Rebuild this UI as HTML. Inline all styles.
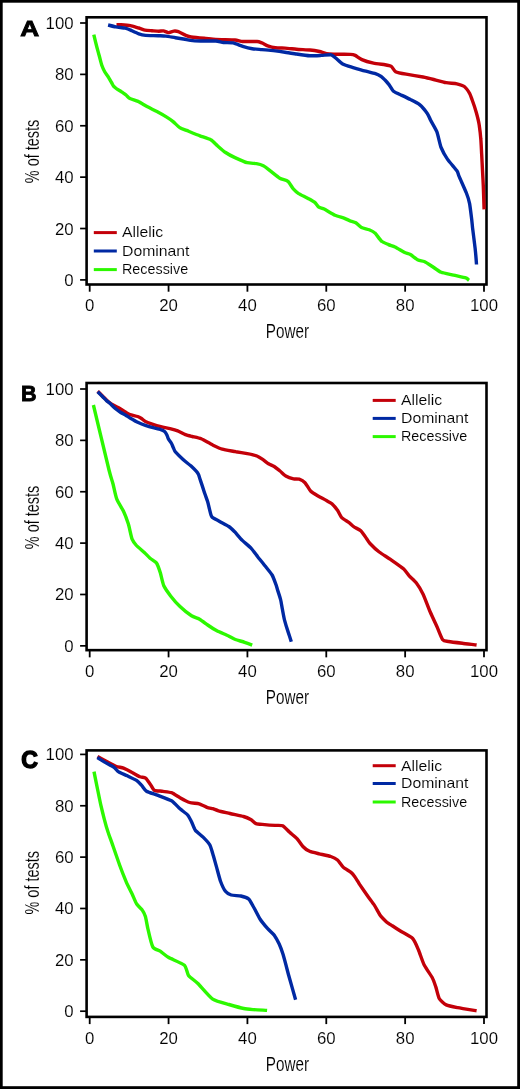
<!DOCTYPE html><html><head><meta charset="utf-8"><style>html,body{margin:0;padding:0;background:#fff;overflow:hidden;}svg{display:block;will-change:transform;}text{font-family:"Liberation Sans", sans-serif;}.t{stroke:#fff;stroke-width:0.12px;}</style></head><body>
<svg width="520" height="1089" viewBox="0 0 520 1089">
<rect x="0" y="0" width="520" height="1089" fill="#000"/>
<rect x="2.7" y="2.7" width="514.5" height="1083.5" fill="#fff"/>
<rect x="86.60" y="17.30" width="399.90" height="267.20" fill="none" stroke="#000" stroke-width="2.6"/>
<line x1="80.1" y1="279.90" x2="86.60" y2="279.90" stroke="#000" stroke-width="1.7"/>
<text class="t" x="73.6" y="285.90" font-size="16.8" text-anchor="end">0</text>
<line x1="80.1" y1="228.52" x2="86.60" y2="228.52" stroke="#000" stroke-width="1.7"/>
<text class="t" x="73.6" y="234.52" font-size="16.8" text-anchor="end">20</text>
<line x1="80.1" y1="177.14" x2="86.60" y2="177.14" stroke="#000" stroke-width="1.7"/>
<text class="t" x="73.6" y="183.14" font-size="16.8" text-anchor="end">40</text>
<line x1="80.1" y1="125.76" x2="86.60" y2="125.76" stroke="#000" stroke-width="1.7"/>
<text class="t" x="73.6" y="131.76" font-size="16.8" text-anchor="end">60</text>
<line x1="80.1" y1="74.38" x2="86.60" y2="74.38" stroke="#000" stroke-width="1.7"/>
<text class="t" x="73.6" y="80.38" font-size="16.8" text-anchor="end">80</text>
<line x1="80.1" y1="23.00" x2="86.60" y2="23.00" stroke="#000" stroke-width="1.7"/>
<text class="t" x="73.6" y="29.00" font-size="16.8" text-anchor="end">100</text>
<line x1="89.70" y1="284.50" x2="89.70" y2="291.70" stroke="#000" stroke-width="1.8"/>
<text class="t" x="89.70" y="311.20" font-size="16.8" text-anchor="middle">0</text>
<line x1="168.56" y1="284.50" x2="168.56" y2="291.70" stroke="#000" stroke-width="1.8"/>
<text class="t" x="168.56" y="311.20" font-size="16.8" text-anchor="middle">20</text>
<line x1="247.42" y1="284.50" x2="247.42" y2="291.70" stroke="#000" stroke-width="1.8"/>
<text class="t" x="247.42" y="311.20" font-size="16.8" text-anchor="middle">40</text>
<line x1="326.28" y1="284.50" x2="326.28" y2="291.70" stroke="#000" stroke-width="1.8"/>
<text class="t" x="326.28" y="311.20" font-size="16.8" text-anchor="middle">60</text>
<line x1="405.14" y1="284.50" x2="405.14" y2="291.70" stroke="#000" stroke-width="1.8"/>
<text class="t" x="405.14" y="311.20" font-size="16.8" text-anchor="middle">80</text>
<line x1="484.00" y1="284.50" x2="484.00" y2="291.70" stroke="#000" stroke-width="1.8"/>
<text class="t" x="484.00" y="311.20" font-size="16.8" text-anchor="middle">100</text>
<text class="t" transform="translate(38.7 151.45) rotate(-90)" font-size="21" text-anchor="middle" textLength="63.5" lengthAdjust="spacingAndGlyphs">% of tests</text>
<text class="t" x="287.4" y="338.30" font-size="21" text-anchor="middle" textLength="43.2" lengthAdjust="spacingAndGlyphs">Power</text>
<text transform="translate(20.20 36.20) scale(1.150 1)" font-size="22.8" font-weight="bold" stroke="#000" stroke-width="0.9">A</text>
<rect x="86.60" y="383.00" width="399.90" height="267.15" fill="none" stroke="#000" stroke-width="2.6"/>
<line x1="80.1" y1="645.85" x2="86.60" y2="645.85" stroke="#000" stroke-width="1.7"/>
<text class="t" x="73.6" y="651.85" font-size="16.8" text-anchor="end">0</text>
<line x1="80.1" y1="594.48" x2="86.60" y2="594.48" stroke="#000" stroke-width="1.7"/>
<text class="t" x="73.6" y="600.48" font-size="16.8" text-anchor="end">20</text>
<line x1="80.1" y1="543.11" x2="86.60" y2="543.11" stroke="#000" stroke-width="1.7"/>
<text class="t" x="73.6" y="549.11" font-size="16.8" text-anchor="end">40</text>
<line x1="80.1" y1="491.74" x2="86.60" y2="491.74" stroke="#000" stroke-width="1.7"/>
<text class="t" x="73.6" y="497.74" font-size="16.8" text-anchor="end">60</text>
<line x1="80.1" y1="440.37" x2="86.60" y2="440.37" stroke="#000" stroke-width="1.7"/>
<text class="t" x="73.6" y="446.37" font-size="16.8" text-anchor="end">80</text>
<line x1="80.1" y1="389.00" x2="86.60" y2="389.00" stroke="#000" stroke-width="1.7"/>
<text class="t" x="73.6" y="395.00" font-size="16.8" text-anchor="end">100</text>
<line x1="89.70" y1="650.15" x2="89.70" y2="657.35" stroke="#000" stroke-width="1.8"/>
<text class="t" x="89.70" y="676.85" font-size="16.8" text-anchor="middle">0</text>
<line x1="168.56" y1="650.15" x2="168.56" y2="657.35" stroke="#000" stroke-width="1.8"/>
<text class="t" x="168.56" y="676.85" font-size="16.8" text-anchor="middle">20</text>
<line x1="247.42" y1="650.15" x2="247.42" y2="657.35" stroke="#000" stroke-width="1.8"/>
<text class="t" x="247.42" y="676.85" font-size="16.8" text-anchor="middle">40</text>
<line x1="326.28" y1="650.15" x2="326.28" y2="657.35" stroke="#000" stroke-width="1.8"/>
<text class="t" x="326.28" y="676.85" font-size="16.8" text-anchor="middle">60</text>
<line x1="405.14" y1="650.15" x2="405.14" y2="657.35" stroke="#000" stroke-width="1.8"/>
<text class="t" x="405.14" y="676.85" font-size="16.8" text-anchor="middle">80</text>
<line x1="484.00" y1="650.15" x2="484.00" y2="657.35" stroke="#000" stroke-width="1.8"/>
<text class="t" x="484.00" y="676.85" font-size="16.8" text-anchor="middle">100</text>
<text class="t" transform="translate(38.7 517.42) rotate(-90)" font-size="21" text-anchor="middle" textLength="63.5" lengthAdjust="spacingAndGlyphs">% of tests</text>
<text class="t" x="287.4" y="703.95" font-size="21" text-anchor="middle" textLength="43.2" lengthAdjust="spacingAndGlyphs">Power</text>
<text transform="translate(21.00 401.30) scale(0.960 1)" font-size="22.4" font-weight="bold" stroke="#000" stroke-width="0.9">B</text>
<rect x="86.60" y="750.40" width="399.90" height="266.50" fill="none" stroke="#000" stroke-width="2.6"/>
<line x1="80.1" y1="1011.20" x2="86.60" y2="1011.20" stroke="#000" stroke-width="1.7"/>
<text class="t" x="73.6" y="1017.20" font-size="16.8" text-anchor="end">0</text>
<line x1="80.1" y1="959.84" x2="86.60" y2="959.84" stroke="#000" stroke-width="1.7"/>
<text class="t" x="73.6" y="965.84" font-size="16.8" text-anchor="end">20</text>
<line x1="80.1" y1="908.48" x2="86.60" y2="908.48" stroke="#000" stroke-width="1.7"/>
<text class="t" x="73.6" y="914.48" font-size="16.8" text-anchor="end">40</text>
<line x1="80.1" y1="857.12" x2="86.60" y2="857.12" stroke="#000" stroke-width="1.7"/>
<text class="t" x="73.6" y="863.12" font-size="16.8" text-anchor="end">60</text>
<line x1="80.1" y1="805.76" x2="86.60" y2="805.76" stroke="#000" stroke-width="1.7"/>
<text class="t" x="73.6" y="811.76" font-size="16.8" text-anchor="end">80</text>
<line x1="80.1" y1="754.40" x2="86.60" y2="754.40" stroke="#000" stroke-width="1.7"/>
<text class="t" x="73.6" y="760.40" font-size="16.8" text-anchor="end">100</text>
<line x1="89.70" y1="1016.90" x2="89.70" y2="1024.10" stroke="#000" stroke-width="1.8"/>
<text class="t" x="89.70" y="1043.60" font-size="16.8" text-anchor="middle">0</text>
<line x1="168.56" y1="1016.90" x2="168.56" y2="1024.10" stroke="#000" stroke-width="1.8"/>
<text class="t" x="168.56" y="1043.60" font-size="16.8" text-anchor="middle">20</text>
<line x1="247.42" y1="1016.90" x2="247.42" y2="1024.10" stroke="#000" stroke-width="1.8"/>
<text class="t" x="247.42" y="1043.60" font-size="16.8" text-anchor="middle">40</text>
<line x1="326.28" y1="1016.90" x2="326.28" y2="1024.10" stroke="#000" stroke-width="1.8"/>
<text class="t" x="326.28" y="1043.60" font-size="16.8" text-anchor="middle">60</text>
<line x1="405.14" y1="1016.90" x2="405.14" y2="1024.10" stroke="#000" stroke-width="1.8"/>
<text class="t" x="405.14" y="1043.60" font-size="16.8" text-anchor="middle">80</text>
<line x1="484.00" y1="1016.90" x2="484.00" y2="1024.10" stroke="#000" stroke-width="1.8"/>
<text class="t" x="484.00" y="1043.60" font-size="16.8" text-anchor="middle">100</text>
<text class="t" transform="translate(38.7 882.80) rotate(-90)" font-size="21" text-anchor="middle" textLength="63.5" lengthAdjust="spacingAndGlyphs">% of tests</text>
<text class="t" x="287.4" y="1070.70" font-size="21" text-anchor="middle" textLength="43.2" lengthAdjust="spacingAndGlyphs">Power</text>
<text transform="translate(21.30 767.80) scale(0.970 1)" font-size="23.8" font-weight="bold" stroke="#000" stroke-width="1.4">C</text>
<line x1="93.8" y1="232.60" x2="116.8" y2="232.60" stroke="#c30009" stroke-width="3"/>
<text class="t" x="122.0" y="237.40" font-size="14.8" textLength="41.2" lengthAdjust="spacingAndGlyphs">Allelic</text>
<line x1="93.8" y1="251.00" x2="116.8" y2="251.00" stroke="#0029a3" stroke-width="3"/>
<text class="t" x="122.0" y="255.80" font-size="14.8" textLength="67.5" lengthAdjust="spacingAndGlyphs">Dominant</text>
<line x1="93.8" y1="269.60" x2="116.8" y2="269.60" stroke="#2cf800" stroke-width="3"/>
<text class="t" x="122.0" y="274.40" font-size="14.8" textLength="66.2" lengthAdjust="spacingAndGlyphs">Recessive</text>
<line x1="372.7" y1="400.40" x2="395.7" y2="400.40" stroke="#c30009" stroke-width="3"/>
<text class="t" x="401.0" y="405.20" font-size="14.8" textLength="41.2" lengthAdjust="spacingAndGlyphs">Allelic</text>
<line x1="372.7" y1="418.40" x2="395.7" y2="418.40" stroke="#0029a3" stroke-width="3"/>
<text class="t" x="401.0" y="423.20" font-size="14.8" textLength="67.5" lengthAdjust="spacingAndGlyphs">Dominant</text>
<line x1="372.7" y1="436.60" x2="395.7" y2="436.60" stroke="#2cf800" stroke-width="3"/>
<text class="t" x="401.0" y="441.40" font-size="14.8" textLength="66.2" lengthAdjust="spacingAndGlyphs">Recessive</text>
<line x1="372.7" y1="765.70" x2="395.7" y2="765.70" stroke="#c30009" stroke-width="3"/>
<text class="t" x="401.0" y="770.50" font-size="14.8" textLength="41.2" lengthAdjust="spacingAndGlyphs">Allelic</text>
<line x1="372.7" y1="783.50" x2="395.7" y2="783.50" stroke="#0029a3" stroke-width="3"/>
<text class="t" x="401.0" y="788.30" font-size="14.8" textLength="67.5" lengthAdjust="spacingAndGlyphs">Dominant</text>
<line x1="372.7" y1="802.00" x2="395.7" y2="802.00" stroke="#2cf800" stroke-width="3"/>
<text class="t" x="401.0" y="806.80" font-size="14.8" textLength="66.2" lengthAdjust="spacingAndGlyphs">Recessive</text>
<path d="M93.8 34.7 C94.1 36.0 96.3 45.0 96.9 47.2 C97.5 49.4 99.0 55.0 99.5 56.8 C100.0 58.6 101.2 63.5 101.7 65.0 C102.2 66.5 104.0 70.4 104.7 71.7 C105.4 73.0 108.1 76.7 108.8 77.8 C109.5 78.9 111.0 81.7 111.5 82.5 C112.0 83.3 113.0 85.6 113.5 86.2 C114.0 86.8 115.4 87.9 116.2 88.5 C117.0 89.1 120.6 91.2 121.6 91.9 C122.6 92.6 125.5 94.6 126.3 95.3 C127.1 96.0 128.8 98.0 130.0 98.6 C131.2 99.2 136.3 100.6 138.1 101.4 C139.8 102.2 145.6 105.8 147.5 106.8 C149.4 107.8 155.0 110.5 156.9 111.5 C158.8 112.5 164.7 115.9 166.3 116.9 C167.9 117.9 171.8 120.5 173.1 121.6 C174.4 122.7 178.5 126.8 179.8 127.7 C181.1 128.6 184.5 129.6 186.5 130.4 C188.5 131.2 197.6 134.9 200.0 135.8 C202.4 136.7 209.1 138.8 210.8 139.8 C212.6 140.8 216.0 144.5 217.5 145.8 C219.0 147.1 223.8 151.3 225.6 152.5 C227.3 153.7 232.8 156.6 235.0 157.6 C237.2 158.6 244.9 162.1 247.1 162.7 C249.2 163.3 254.9 163.3 256.5 163.6 C258.1 163.9 261.9 165.0 263.3 165.7 C264.7 166.4 268.4 169.3 270.0 170.6 C271.6 171.8 278.0 177.1 279.8 178.2 C281.6 179.3 286.5 180.2 287.9 181.3 C289.2 182.4 292.2 187.7 293.3 188.9 C294.4 190.1 297.1 192.7 298.6 193.6 C300.1 194.5 306.5 197.5 308.1 198.4 C309.7 199.3 313.7 201.5 314.8 202.4 C315.9 203.3 317.9 206.4 318.8 207.1 C319.7 207.8 322.6 208.3 324.2 209.1 C325.8 209.9 333.0 214.3 335.0 215.2 C337.0 216.1 343.1 217.7 344.6 218.3 C346.1 218.9 348.9 220.4 350.0 220.8 C351.1 221.2 354.7 222.0 355.8 222.7 C356.9 223.4 360.2 226.8 361.5 227.5 C362.8 228.2 367.8 229.2 369.2 229.8 C370.6 230.4 373.8 231.9 375.0 233.1 C376.2 234.2 380.3 240.2 381.7 241.3 C383.1 242.5 387.2 244.0 388.5 244.6 C389.8 245.2 393.4 246.1 395.0 246.9 C396.6 247.7 402.7 251.5 404.2 252.3 C405.7 253.1 409.0 253.8 410.4 254.6 C411.8 255.4 416.7 259.3 418.1 260.0 C419.5 260.7 422.8 260.9 424.2 261.5 C425.6 262.1 430.2 265.1 431.9 266.2 C433.6 267.3 439.0 271.4 441.2 272.3 C443.4 273.2 451.0 274.5 453.5 275.1 C456.0 275.7 464.2 277.4 465.8 277.9 C467.4 278.4 468.7 280.1 469.0 280.3" fill="none" stroke="#2cf800" stroke-width="3.4" stroke-linejoin="round" stroke-linecap="butt"/>
<path d="M116.5 24.7 C117.0 24.7 119.6 24.6 121.0 24.7 C122.4 24.8 128.6 25.3 130.4 25.6 C132.2 25.9 137.3 27.6 138.8 28.0 C140.3 28.4 143.7 29.8 145.0 30.1 C146.3 30.4 150.5 30.6 151.9 30.7 C153.3 30.8 157.6 31.2 158.8 31.2 C160.0 31.2 162.6 30.8 163.5 30.9 C164.4 31.0 167.3 32.6 168.3 32.6 C169.3 32.6 172.8 31.2 173.8 31.1 C174.8 31.0 177.2 31.2 178.4 31.6 C179.6 32.0 184.1 34.7 185.4 35.2 C186.7 35.7 189.2 36.7 191.1 37.0 C193.0 37.3 201.7 38.1 204.2 38.3 C206.7 38.5 212.7 39.2 215.8 39.4 C218.9 39.6 232.3 39.8 235.0 40.0 C237.7 40.2 240.5 41.4 242.7 41.5 C244.9 41.6 255.2 41.4 257.1 41.5 C259.0 41.6 260.8 42.5 261.9 42.9 C263.0 43.3 266.3 45.3 267.7 45.8 C269.1 46.3 273.7 47.5 275.4 47.7 C277.1 47.9 282.9 48.0 285.0 48.1 C287.1 48.2 294.0 49.0 296.5 49.2 C299.0 49.4 307.7 49.8 310.0 50.0 C312.3 50.2 317.7 51.1 319.6 51.5 C321.5 51.9 326.1 53.7 329.2 54.0 C332.3 54.3 347.8 54.3 350.4 54.4 C353.0 54.5 354.1 54.9 355.2 55.4 C356.3 55.9 360.1 58.8 361.9 59.6 C363.7 60.4 371.2 62.6 373.5 63.1 C375.8 63.6 383.2 64.5 385.0 64.8 C386.8 65.1 390.2 65.7 391.3 66.4 C392.4 67.1 394.1 70.9 395.6 71.7 C397.1 72.5 403.4 73.7 406.2 74.2 C408.9 74.7 420.4 76.5 423.1 77.0 C425.9 77.5 431.4 78.9 433.7 79.5 C436.0 80.1 444.0 82.3 446.3 82.7 C448.6 83.1 455.1 83.4 456.9 83.8 C458.7 84.2 463.0 85.5 464.3 86.5 C465.6 87.5 468.8 92.0 469.6 93.3 C470.4 94.6 471.5 98.1 472.2 100.0 C472.9 101.9 475.6 110.0 476.3 112.5 C477.0 115.0 478.8 122.3 479.2 125.0 C479.6 127.7 480.6 136.0 480.8 139.0 C481.1 142.0 481.5 151.6 481.7 154.7 C481.9 157.8 482.3 167.2 482.5 170.3 C482.7 173.4 483.1 182.0 483.3 185.9 C483.5 189.8 484.0 207.1 484.1 209.4" fill="none" stroke="#c30009" stroke-width="3.4" stroke-linejoin="round" stroke-linecap="butt"/>
<path d="M108.1 25.0 C108.9 25.2 114.1 26.6 115.8 26.9 C117.5 27.2 123.9 27.8 125.4 28.1 C126.9 28.5 129.9 29.8 131.2 30.4 C132.5 31.0 137.4 33.3 138.8 33.8 C140.2 34.3 143.7 35.2 145.6 35.4 C147.5 35.6 156.1 35.6 158.1 35.7 C160.1 35.8 164.1 35.9 165.8 36.1 C167.5 36.3 173.5 37.4 175.4 37.7 C177.3 38.0 183.3 39.0 185.0 39.3 C186.7 39.6 190.8 40.4 192.7 40.6 C194.6 40.8 201.9 41.0 204.2 41.0 C206.5 41.0 213.9 40.9 215.8 41.0 C217.7 41.1 221.8 42.3 223.5 42.5 C225.2 42.7 231.2 42.5 233.1 42.9 C235.0 43.3 240.8 45.7 242.7 46.3 C244.6 46.9 250.4 48.4 252.3 48.7 C254.2 49.0 259.8 49.4 261.9 49.6 C264.0 49.8 271.2 50.3 273.5 50.6 C275.8 50.9 282.7 51.9 285.0 52.2 C287.3 52.5 294.0 53.6 296.5 54.0 C299.0 54.4 307.5 55.7 310.0 55.8 C312.5 55.9 319.4 55.5 321.5 55.4 C323.6 55.3 329.8 54.5 331.2 54.8 C332.6 55.1 334.9 57.4 336.0 58.3 C337.1 59.2 341.1 63.1 342.7 64.0 C344.3 64.9 350.0 66.6 352.3 67.3 C354.6 68.0 363.5 70.6 365.8 71.2 C368.1 71.8 373.9 73.2 375.4 73.7 C376.9 74.2 380.2 75.9 381.2 76.5 C382.2 77.1 384.2 79.2 385.0 80.0 C385.8 80.8 388.3 83.7 389.2 84.8 C390.1 85.9 392.2 90.1 393.5 91.2 C394.8 92.3 400.2 94.6 401.9 95.4 C403.6 96.2 408.6 98.6 410.4 99.6 C412.2 100.5 418.2 103.5 419.9 104.9 C421.6 106.3 426.2 111.9 427.3 113.4 C428.4 114.9 429.6 118.2 430.5 120.0 C431.4 121.8 435.7 128.8 436.8 131.6 C437.9 134.3 440.0 144.8 441.1 147.5 C442.2 150.2 445.8 156.8 447.4 159.1 C449.0 161.4 455.7 169.1 456.9 170.8 C458.1 172.5 458.1 173.9 459.0 176.1 C459.9 178.3 465.3 190.2 466.4 193.0 C467.5 195.8 469.1 201.0 469.6 203.6 C470.1 206.2 471.4 217.0 471.7 219.4 C472.0 221.8 472.2 224.4 472.5 227.3 C472.8 230.2 474.7 244.4 475.1 248.1 C475.5 251.8 476.4 262.9 476.5 264.5" fill="none" stroke="#0029a3" stroke-width="3.4" stroke-linejoin="round" stroke-linecap="butt"/>
<path d="M93.4 405.0 C95.0 411.5 107.0 462.1 109.0 470.0 C111.0 477.9 112.1 480.6 112.9 483.5 C113.7 486.4 115.6 496.0 116.7 498.8 C117.8 501.6 122.3 508.8 123.5 511.3 C124.7 513.8 127.4 521.0 128.3 523.8 C129.2 526.6 131.3 537.1 132.1 539.2 C132.9 541.3 134.8 543.6 136.0 545.0 C137.2 546.4 143.2 551.4 144.6 552.7 C146.0 554.1 149.2 557.5 150.4 558.5 C151.6 559.5 155.5 561.5 156.5 563.0 C157.5 564.5 159.7 570.8 160.4 573.1 C161.1 575.4 162.8 583.5 163.8 585.8 C164.8 588.1 169.2 594.1 170.8 596.2 C172.4 598.3 177.9 604.5 180.0 606.5 C182.1 608.5 189.5 614.5 191.5 615.8 C193.5 617.1 198.0 618.3 199.6 619.2 C201.2 620.1 206.0 623.8 207.7 625.0 C209.4 626.2 214.8 629.7 216.9 630.8 C219.0 631.9 226.7 635.0 228.5 635.9 C230.3 636.8 233.8 638.9 235.4 639.5 C237.0 640.1 242.9 641.7 244.6 642.3 C246.3 642.9 251.4 644.8 252.2 645.1" fill="none" stroke="#2cf800" stroke-width="3.4" stroke-linejoin="round" stroke-linecap="butt"/>
<path d="M97.7 391.2 C98.2 391.7 101.8 395.3 102.7 396.2 C103.6 397.1 105.7 399.3 106.5 400.0 C107.3 400.7 109.2 402.6 110.4 403.3 C111.6 404.1 116.6 406.6 118.1 407.5 C119.6 408.4 124.6 411.6 125.8 412.3 C127.0 413.0 128.8 414.2 130.0 414.6 C131.2 415.0 136.5 416.1 137.7 416.5 C138.8 416.9 140.7 418.0 141.5 418.5 C142.3 419.0 144.4 421.0 145.4 421.5 C146.4 422.0 150.0 423.3 151.5 423.8 C153.0 424.3 159.0 426.2 160.8 426.7 C162.7 427.2 168.3 428.2 170.0 428.6 C171.7 429.0 176.2 430.2 177.7 430.8 C179.2 431.4 183.9 434.0 185.4 434.6 C186.9 435.2 190.7 436.1 192.3 436.5 C193.9 436.9 199.2 437.9 201.2 438.8 C203.2 439.7 210.6 444.0 212.7 445.0 C214.8 446.0 220.0 448.5 222.3 449.2 C224.6 449.9 233.3 451.2 235.8 451.7 C238.3 452.1 245.2 453.3 247.3 453.7 C249.4 454.1 255.4 455.4 256.9 456.0 C258.4 456.6 261.5 458.6 262.7 459.4 C263.9 460.2 267.4 463.1 268.5 463.8 C269.6 464.5 273.1 465.8 274.2 466.5 C275.3 467.2 278.8 470.1 280.0 471.0 C281.2 471.9 284.4 475.2 285.8 476.0 C287.2 476.8 292.2 478.5 293.5 478.8 C294.8 479.1 298.1 478.8 299.2 479.2 C300.3 479.6 303.8 481.5 305.0 482.7 C306.2 483.9 309.4 489.9 310.8 491.3 C312.2 492.7 317.0 495.3 318.5 496.2 C320.0 497.1 324.9 499.6 326.2 500.4 C327.5 501.2 330.8 502.8 331.9 503.8 C333.0 504.8 336.7 509.2 337.7 510.6 C338.7 512.0 340.4 516.1 341.5 517.3 C342.6 518.5 347.9 521.7 349.2 522.7 C350.4 523.7 352.8 526.1 354.0 526.9 C355.2 527.7 359.6 529.6 360.8 530.8 C362.1 532.0 365.6 537.2 366.5 538.5 C367.4 539.8 368.7 542.1 370.0 543.5 C371.3 544.9 377.1 550.4 379.2 552.0 C381.3 553.6 388.4 557.9 390.8 559.6 C393.2 561.3 401.7 567.2 403.5 568.8 C405.3 570.4 407.9 574.4 409.2 575.8 C410.5 577.2 414.8 580.9 416.2 582.7 C417.6 584.5 421.7 591.3 423.1 594.2 C424.5 597.1 428.6 608.3 430.0 611.5 C431.4 614.7 435.6 623.7 436.9 626.5 C438.2 629.3 441.5 638.2 442.7 639.7 C443.9 641.2 446.5 641.1 448.5 641.5 C450.5 641.9 459.5 642.9 462.3 643.2 C465.1 643.6 475.2 644.8 476.6 645.0" fill="none" stroke="#c30009" stroke-width="3.4" stroke-linejoin="round" stroke-linecap="butt"/>
<path d="M97.7 391.8 C98.2 392.3 101.8 395.9 102.7 396.8 C103.6 397.7 105.7 399.9 106.5 400.6 C107.3 401.3 109.6 402.9 110.4 403.7 C111.2 404.5 114.0 407.4 115.0 408.3 C116.0 409.2 119.3 411.5 120.4 412.2 C121.5 412.9 124.8 414.6 125.8 415.2 C126.8 415.8 128.8 417.3 130.0 418.0 C131.2 418.7 136.2 421.6 137.7 422.3 C139.2 423.0 143.9 424.9 145.4 425.4 C146.9 425.9 151.6 427.3 153.1 427.7 C154.6 428.1 159.7 429.2 160.8 429.6 C162.0 430.0 164.0 431.0 164.6 431.5 C165.2 432.0 166.5 434.2 166.9 435.0 C167.3 435.8 168.0 438.3 168.5 439.2 C169.0 440.1 171.0 442.6 171.5 443.5 C172.0 444.4 173.1 447.3 173.5 448.1 C173.9 448.9 174.4 450.8 175.4 451.9 C176.4 453.0 181.6 458.2 183.1 459.6 C184.6 461.0 189.5 464.6 190.8 465.8 C192.1 467.0 195.4 470.3 196.2 471.2 C197.0 472.1 198.1 473.7 198.5 474.5 C198.9 475.3 199.6 477.9 200.2 479.6 C200.8 481.3 203.3 489.0 204.0 491.2 C204.7 493.4 207.0 499.7 207.6 501.5 C208.2 503.3 209.2 508.1 209.6 509.6 C210.0 511.1 210.9 515.7 211.9 516.9 C212.9 518.1 217.5 520.2 219.2 521.2 C220.9 522.2 227.3 525.5 228.8 526.5 C230.3 527.5 233.2 530.3 234.6 531.7 C235.9 533.1 240.7 538.8 242.3 540.4 C243.9 542.0 249.5 546.5 251.0 548.1 C252.5 549.7 256.3 554.9 257.7 556.7 C259.1 558.5 264.0 564.5 265.4 566.3 C266.8 568.1 271.0 573.2 272.1 575.0 C273.2 576.8 275.4 583.1 276.0 584.6 C276.6 586.1 277.2 588.9 277.7 590.4 C278.2 591.9 280.1 597.8 280.6 599.6 C281.1 601.4 281.9 606.7 282.3 608.8 C282.7 610.9 284.0 618.1 284.6 620.4 C285.2 622.7 287.4 629.8 288.1 631.9 C288.8 634.0 291.0 640.7 291.3 641.7" fill="none" stroke="#0029a3" stroke-width="3.4" stroke-linejoin="round" stroke-linecap="butt"/>
<path d="M94.0 771.7 C94.3 773.4 96.8 785.6 97.5 789.0 C98.2 792.4 100.2 802.4 100.9 805.4 C101.6 808.4 103.5 816.1 104.2 818.8 C104.9 821.5 107.2 829.6 108.1 832.3 C109.0 835.0 111.8 842.5 112.9 845.8 C114.1 849.1 118.3 861.4 119.6 865.0 C120.9 868.6 125.0 879.0 126.2 881.9 C127.4 884.8 130.8 891.3 131.9 893.5 C133.0 895.7 135.6 902.3 136.7 904.0 C137.8 905.7 141.6 909.1 142.5 910.4 C143.4 911.6 144.8 914.6 145.4 916.5 C146.0 918.4 147.3 926.5 148.1 929.6 C148.8 932.7 151.7 944.9 152.9 947.1 C154.1 949.3 158.7 950.2 160.2 951.2 C161.7 952.2 165.9 955.9 168.3 957.3 C170.7 958.7 182.4 963.4 184.4 965.2 C186.4 967.0 187.2 973.6 188.5 975.4 C189.8 977.2 195.5 981.1 197.9 983.5 C200.3 985.9 209.6 997.0 212.7 999.1 C215.8 1001.2 225.8 1003.6 228.9 1004.5 C232.0 1005.4 241.3 1008.0 243.7 1008.5 C246.1 1009.0 250.8 1009.4 253.1 1009.6 C255.4 1009.8 265.7 1010.3 267.1 1010.4" fill="none" stroke="#2cf800" stroke-width="3.4" stroke-linejoin="round" stroke-linecap="butt"/>
<path d="M97.5 756.5 C98.4 757.0 104.4 760.3 106.2 761.3 C108.0 762.3 114.1 765.5 115.8 766.2 C117.5 766.9 122.0 767.5 123.5 768.1 C125.0 768.7 129.6 771.0 131.2 771.9 C132.8 772.8 138.4 776.1 139.8 776.7 C141.2 777.3 144.5 777.3 145.6 778.1 C146.7 778.9 149.5 783.2 150.4 784.4 C151.3 785.6 153.0 789.5 154.2 790.2 C155.3 790.9 160.2 791.0 161.9 791.2 C163.6 791.5 169.7 792.1 171.5 792.7 C173.3 793.4 178.2 796.7 180.0 797.7 C181.8 798.7 187.7 801.9 189.6 802.5 C191.5 803.1 197.5 803.3 199.2 803.8 C200.9 804.3 205.6 806.8 206.9 807.3 C208.2 807.8 211.5 808.4 212.7 808.7 C213.9 809.1 216.8 810.3 218.5 810.8 C220.2 811.3 227.5 812.9 230.0 813.5 C232.5 814.1 241.4 815.9 243.5 816.5 C245.6 817.1 249.9 819.1 251.2 819.8 C252.4 820.5 254.7 823.2 256.0 823.7 C257.3 824.2 262.7 824.4 264.6 824.6 C266.5 824.8 273.2 825.3 275.0 825.4 C276.8 825.5 281.3 825.1 282.7 825.8 C284.1 826.5 288.0 830.8 289.4 832.1 C290.8 833.4 295.8 837.4 297.1 838.8 C298.5 840.2 301.6 845.2 302.9 846.5 C304.1 847.8 308.0 850.6 309.6 851.3 C311.2 852.0 317.1 853.3 319.2 853.8 C321.3 854.3 329.0 855.9 330.8 856.5 C332.6 857.1 336.2 858.9 337.5 860.0 C338.8 861.1 341.9 866.1 343.3 867.3 C344.7 868.5 349.9 871.5 351.0 872.4 C352.1 873.3 353.9 875.5 354.8 876.7 C355.7 877.9 358.4 882.5 359.6 884.4 C360.9 886.3 365.9 893.5 367.3 895.5 C368.7 897.5 372.9 903.0 374.0 904.6 C375.1 906.2 377.2 910.1 377.9 911.3 C378.6 912.5 379.9 915.1 380.8 916.2 C381.7 917.3 385.4 920.9 386.5 921.9 C387.6 922.9 390.9 924.9 392.3 925.8 C393.7 926.7 398.0 929.5 400.0 930.8 C402.0 932.1 410.8 936.6 412.7 938.5 C414.6 940.4 417.4 947.4 418.5 950.0 C419.6 952.6 422.8 962.2 424.2 965.0 C425.6 967.8 431.1 975.5 432.3 977.7 C433.5 979.9 435.1 984.8 435.8 986.9 C436.5 989.0 438.2 996.7 439.2 998.5 C440.2 1000.3 444.3 1004.0 446.2 1004.9 C448.1 1005.8 454.7 1007.1 457.7 1007.7 C460.7 1008.3 474.7 1010.4 476.6 1010.7" fill="none" stroke="#c30009" stroke-width="3.4" stroke-linejoin="round" stroke-linecap="butt"/>
<path d="M97.3 757.6 C98.0 758.0 102.5 760.9 104.2 761.9 C105.9 762.9 112.3 766.1 113.8 767.1 C115.2 768.1 117.4 771.0 118.7 771.9 C120.0 772.8 125.5 774.9 127.3 775.8 C129.1 776.7 135.5 779.6 136.9 780.6 C138.3 781.6 140.7 784.3 141.7 785.4 C142.7 786.5 144.9 790.2 146.5 791.2 C148.1 792.2 155.6 794.4 158.1 795.4 C160.6 796.4 169.3 799.5 171.5 800.8 C173.7 802.1 178.4 807.4 180.0 808.8 C181.6 810.2 186.5 813.7 187.7 815.0 C188.8 816.3 190.7 820.2 191.5 821.7 C192.3 823.2 194.2 828.9 195.4 830.4 C196.6 831.9 201.7 835.7 203.1 837.1 C204.5 838.5 208.8 843.2 209.8 844.8 C210.8 846.4 212.0 851.3 212.7 853.5 C213.4 855.7 215.7 864.1 216.5 866.9 C217.3 869.7 219.7 879.1 220.6 881.5 C221.5 883.9 224.3 889.9 225.4 891.2 C226.5 892.6 229.7 894.5 231.2 895.0 C232.7 895.5 239.1 895.6 240.8 896.0 C242.5 896.4 247.2 897.8 248.5 898.8 C249.8 899.8 252.2 904.5 253.3 906.5 C254.5 908.5 258.6 916.8 260.0 919.0 C261.4 921.2 266.3 927.1 267.7 928.7 C269.1 930.3 273.2 933.9 274.4 935.4 C275.5 936.9 278.3 942.1 279.2 944.0 C280.1 945.9 282.1 951.4 283.1 954.6 C284.1 957.8 287.6 971.3 288.8 975.8 C290.1 980.3 294.9 997.4 295.6 999.8" fill="none" stroke="#0029a3" stroke-width="3.4" stroke-linejoin="round" stroke-linecap="butt"/>
</svg></body></html>
